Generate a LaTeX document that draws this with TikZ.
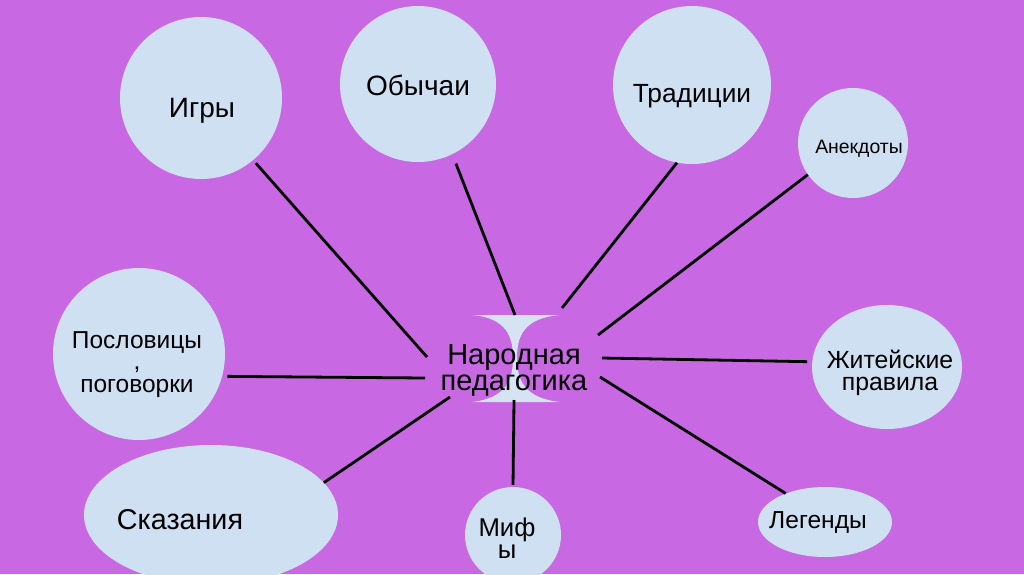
\documentclass[tikz,border=0pt]{standalone}
\usepackage{fontspec}
\setmainfont{Liberation Sans}
\usetikzlibrary{shapes.geometric}
\definecolor{bg}{HTML}{C868E2}
\definecolor{bub}{HTML}{CFE0F2}
\definecolor{waist}{HTML}{D5E3F2}
\newcommand{\fsz}[2]{\fontsize{#1}{#2}\selectfont}
\tikzset{
  bubble/.style={circle,fill=bub,inner sep=0pt,minimum size=#1},
  oval/.style 2 args={ellipse,fill=bub,inner sep=0pt,minimum width=#1,minimum height=#2},
  lbl/.style={anchor=base,inner sep=0pt,align=center,text=black},
  link/.style={draw=black,line width=2.8pt},
}
\begin{document}
\begin{tikzpicture}[x=1pt,y=-1pt]
\useasboundingbox (0,0) rectangle (1024,574);
\clip (0,0) rectangle (1024,574);
\fill[bg] (0,0) rectangle (1024,574);
% bubbles
\node[bubble=162pt] (igry) at (201,98) {};
\node[bubble=156pt] (obych) at (418,84) {};
\node[bubble=158pt] (trad) at (692,85) {};
\node[bubble=110pt] (anek) at (853,143) {};
\node[bubble=172pt] (posl) at (139,354) {};
\node[oval={150pt}{124pt}] (zhit) at (887,367) {};
\node[oval={254pt}{140pt}] (skaz) at (211,515) {};
\node[bubble=96pt] (mify) at (513,535) {};
\node[oval={134pt}{70pt}] (leg) at (825,522) {};
% hourglass behind the centre
\fill[waist] (472,315) -- (560,315) .. controls (524,318) and (517,336) .. (517,358)
  .. controls (517,380) and (524,398) .. (560,402) -- (472,402)
  .. controls (506,398) and (513,380) .. (513,358)
  .. controls (513,336) and (506,318) .. (472,315) -- cycle;
% labels (multi-line ones sit on their last baseline)
\node[lbl,font=\fsz{28}{28}] (igry-t) at (202,117) {Игры};
\node[lbl,font=\fsz{28}{28}] (obych-t) at (418,95) {Обычаи};
\node[lbl,font=\fsz{26.3}{28}] (trad-t) at (692,102) {Традиции};
\node[lbl,font=\fsz{19.4}{22}] (anek-t) at (859,153) {Анекдоты};
\node[lbl,font=\fsz{24.5}{21}] (posl-t) at (137,392) {Пословицы\\,\\[2pt]поговорки};
\node[lbl,font=\fsz{24.8}{22}] (zhit-t) at (890,390) {Житейские\\правила};
\node[lbl,font=\fsz{28.7}{28}] (skaz-t) at (180,529) {Сказания};
\node[lbl,font=\fsz{25.7}{22}] (mify-t) at (507,558) {Миф\\ы};
\node[lbl,font=\fsz{24.6}{26}] (leg-t) at (818,528) {Легенды};
\node[lbl,font=\fsz{29}{26}] (ped) at (514,390) {Народная\\педагогика};
% free ends round the centre
\coordinate (c-igry) at (427,357);
\coordinate (c-obych) at (515,315);
\coordinate (c-trad) at (562,308);
\coordinate (c-anek) at (598,335);
\coordinate (c-zhit) at (602,358);
\coordinate (c-leg) at (600,377);
\coordinate (c-mify) at (514,400);
\coordinate (c-skaz) at (450,397);
\coordinate (c-posl) at (425,378);
\draw[link,shorten <=4pt] (igry.-50) -- (c-igry);
\draw[link,shorten <=10pt] (obych.-64) -- (c-obych);
\draw[link] (trad.-101) -- (c-trad);
\draw[link] (anek.-145) -- (c-anek);
\draw[link,shorten <=5pt] (zhit.176) -- (c-zhit);
\draw[link] (leg.144) -- (c-leg);
\draw[link,shorten <=2pt] (mify.north) -- (c-mify);
\draw[link] (skaz.16) -- (c-skaz);
\draw[link,shorten <=5pt] (posl.-15) -- (c-posl);
\end{tikzpicture}
\end{document}
